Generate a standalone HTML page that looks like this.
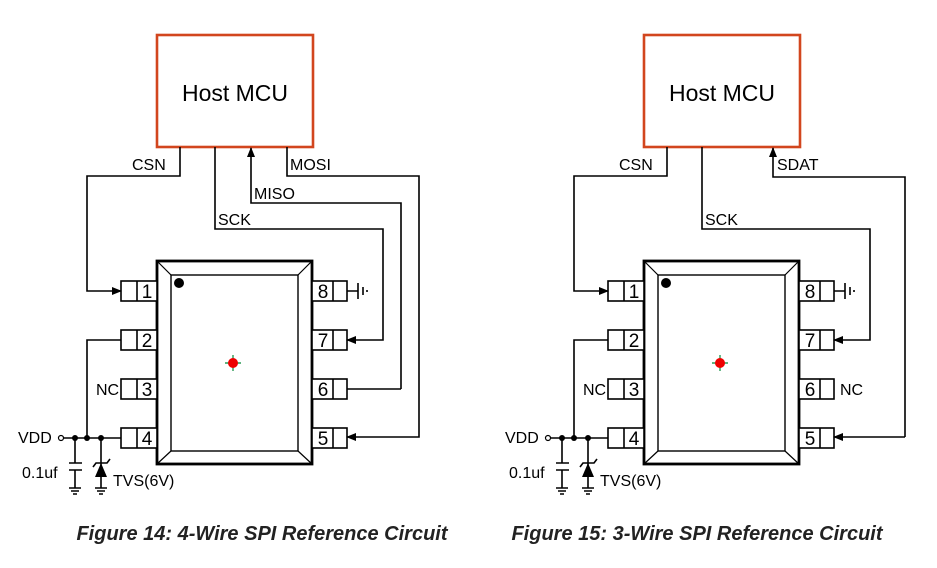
<!DOCTYPE html>
<html><head><style>
html,body{margin:0;padding:0;background:#fff;}
svg{display:block;}
text{font-family:"Liberation Sans",sans-serif;fill:#000;}
</style></head><body>
<svg width="937" height="568" viewBox="0 0 937 568" xmlns="http://www.w3.org/2000/svg">
<defs>
<marker id="ar" markerWidth="10" markerHeight="10" refX="9" refY="5" orient="auto" markerUnits="userSpaceOnUse">
<path d="M0,1 L10,5 L0,9 Z" fill="#000"/>
</marker>
</defs>

<g stroke="#000" fill="none" stroke-width="1.6">
  <rect x="157" y="35" width="156" height="112" stroke="#d2461e" stroke-width="2.6"/>
  <rect x="157" y="261" width="155" height="203" stroke-width="2.8" fill="#fff"/>
  <rect x="171" y="275" width="127" height="176" stroke-width="1.4"/>
  <path d="M157,261 L171,275 M312,261 L298,275 M157,464 L171,451 M312,464 L298,451" stroke-width="1.2"/>
  <circle cx="179" cy="283" r="5" fill="#000" stroke="none"/>
  <path d="M225,363 H241 M233,355 V371" stroke="#2a9a55" stroke-width="1.4"/>
  <circle cx="233" cy="363" r="5" fill="#e00" stroke="none"/>
  <rect x="121" y="281" width="36" height="20" fill="#fff"/><path d="M137,281 V301"/>
  <rect x="121" y="330" width="36" height="20" fill="#fff"/><path d="M137,330 V350"/>
  <rect x="121" y="379" width="36" height="20" fill="#fff"/><path d="M137,379 V399"/>
  <rect x="121" y="428" width="36" height="20" fill="#fff"/><path d="M137,428 V448"/>
  <rect x="312" y="281" width="35" height="20" fill="#fff"/><path d="M333,281 V301"/>
  <rect x="312" y="330" width="35" height="20" fill="#fff"/><path d="M333,330 V350"/>
  <rect x="312" y="379" width="35" height="20" fill="#fff"/><path d="M333,379 V399"/>
  <rect x="312" y="428" width="35" height="20" fill="#fff"/><path d="M333,428 V448"/>
  <path d="M347,291 H358 M358,283 V299 M363,287 V295 M367,290 V292"/>
  <circle cx="61" cy="438" r="2.5" fill="#fff" stroke-width="1.2"/>
  <path d="M64,438 H121"/>
  <path d="M87,438 V340 H121"/>
  <path d="M75,438 V463 M69,463 H82 M69,470 H82 M75,470 V488"/>
  <path d="M101,438 V488"/>
  <path d="M93,467 L96,463 H107 L110,459"/>
  <path d="M101,463 L95,477 H107 Z" fill="#000" stroke="none"/>
  <path d="M69,488 H81 M71,491 H79 M73,494 H77"/>
  <path d="M95,488 H107 M97,491 H105 M99,494 H103"/>
  <circle cx="75" cy="438" r="3" fill="#000" stroke="none"/>
  <circle cx="87" cy="438" r="3" fill="#000" stroke="none"/>
  <circle cx="101" cy="438" r="3" fill="#000" stroke="none"/>
  <path d="M180,147 V176 H87 V291 H121" marker-end="url(#ar)"/>
  <path d="M215,147 V229 H383 V340 H347" marker-end="url(#ar)"/>
  <path d="M401,389 V203 H251 V148" marker-end="url(#ar)"/>
  <path d="M347,389 H401"/>
  <path d="M287,147 V176 H419 V437 H347" marker-end="url(#ar)"/>
</g>
<g font-size="16">
  <text x="235" y="101" font-size="23" text-anchor="middle">Host MCU</text>
  <text x="132" y="170">CSN</text>
  <text x="290" y="170">MOSI</text>
  <text x="254" y="199">MISO</text>
  <text x="218" y="225">SCK</text>
  <text x="96" y="395">NC</text>
  <text x="18" y="443">VDD</text>
  <text x="22" y="478">0.1uf</text>
  <text x="113" y="486">TVS(6V)</text>
  <text x="147" y="298" font-size="19" text-anchor="middle">1</text>
  <text x="147" y="347" font-size="19" text-anchor="middle">2</text>
  <text x="147" y="396" font-size="19" text-anchor="middle">3</text>
  <text x="147" y="445" font-size="19" text-anchor="middle">4</text>
  <text x="323" y="298" font-size="19" text-anchor="middle">8</text>
  <text x="323" y="347" font-size="19" text-anchor="middle">7</text>
  <text x="323" y="396" font-size="19" text-anchor="middle">6</text>
  <text x="323" y="445" font-size="19" text-anchor="middle">5</text>
</g>

<g transform="translate(487,0)">
<g stroke="#000" fill="none" stroke-width="1.6">
  <rect x="157" y="35" width="156" height="112" stroke="#d2461e" stroke-width="2.6"/>
  <rect x="157" y="261" width="155" height="203" stroke-width="2.8" fill="#fff"/>
  <rect x="171" y="275" width="127" height="176" stroke-width="1.4"/>
  <path d="M157,261 L171,275 M312,261 L298,275 M157,464 L171,451 M312,464 L298,451" stroke-width="1.2"/>
  <circle cx="179" cy="283" r="5" fill="#000" stroke="none"/>
  <path d="M225,363 H241 M233,355 V371" stroke="#2a9a55" stroke-width="1.4"/>
  <circle cx="233" cy="363" r="5" fill="#e00" stroke="none"/>
  <rect x="121" y="281" width="36" height="20" fill="#fff"/><path d="M137,281 V301"/>
  <rect x="121" y="330" width="36" height="20" fill="#fff"/><path d="M137,330 V350"/>
  <rect x="121" y="379" width="36" height="20" fill="#fff"/><path d="M137,379 V399"/>
  <rect x="121" y="428" width="36" height="20" fill="#fff"/><path d="M137,428 V448"/>
  <rect x="312" y="281" width="35" height="20" fill="#fff"/><path d="M333,281 V301"/>
  <rect x="312" y="330" width="35" height="20" fill="#fff"/><path d="M333,330 V350"/>
  <rect x="312" y="379" width="35" height="20" fill="#fff"/><path d="M333,379 V399"/>
  <rect x="312" y="428" width="35" height="20" fill="#fff"/><path d="M333,428 V448"/>
  <path d="M347,291 H358 M358,283 V299 M363,287 V295 M367,290 V292"/>
  <circle cx="61" cy="438" r="2.5" fill="#fff" stroke-width="1.2"/>
  <path d="M64,438 H121"/>
  <path d="M87,438 V340 H121"/>
  <path d="M75,438 V463 M69,463 H82 M69,470 H82 M75,470 V488"/>
  <path d="M101,438 V488"/>
  <path d="M93,467 L96,463 H107 L110,459"/>
  <path d="M101,463 L95,477 H107 Z" fill="#000" stroke="none"/>
  <path d="M69,488 H81 M71,491 H79 M73,494 H77"/>
  <path d="M95,488 H107 M97,491 H105 M99,494 H103"/>
  <circle cx="75" cy="438" r="3" fill="#000" stroke="none"/>
  <circle cx="87" cy="438" r="3" fill="#000" stroke="none"/>
  <circle cx="101" cy="438" r="3" fill="#000" stroke="none"/>
  <path d="M180,147 V176 H87 V291 H121" marker-end="url(#ar)"/>
  <path d="M215,147 V229 H383 V340 H347" marker-end="url(#ar)"/>
  <path d="M418,437 V177 H286 V148" marker-end="url(#ar)"/>
  <path d="M418,437 H347" marker-end="url(#ar)"/>
</g>
<g font-size="16">
  <text x="235" y="101" font-size="23" text-anchor="middle">Host MCU</text>
  <text x="132" y="170">CSN</text>
  <text x="290" y="170">SDAT</text>
  <text x="218" y="225">SCK</text>
  <text x="96" y="395">NC</text>
  <text x="353" y="395">NC</text>
  <text x="18" y="443">VDD</text>
  <text x="22" y="478">0.1uf</text>
  <text x="113" y="486">TVS(6V)</text>
  <text x="147" y="298" font-size="19" text-anchor="middle">1</text>
  <text x="147" y="347" font-size="19" text-anchor="middle">2</text>
  <text x="147" y="396" font-size="19" text-anchor="middle">3</text>
  <text x="147" y="445" font-size="19" text-anchor="middle">4</text>
  <text x="323" y="298" font-size="19" text-anchor="middle">8</text>
  <text x="323" y="347" font-size="19" text-anchor="middle">7</text>
  <text x="323" y="396" font-size="19" text-anchor="middle">6</text>
  <text x="323" y="445" font-size="19" text-anchor="middle">5</text>
</g>
</g>

<text x="262" y="540" font-size="20" font-weight="bold" font-style="italic" text-anchor="middle" style="fill:#222">Figure 14: 4-Wire SPI Reference Circuit</text>
<text x="697" y="540" font-size="20" font-weight="bold" font-style="italic" text-anchor="middle" style="fill:#222">Figure 15: 3-Wire SPI Reference Circuit</text>
</svg>
</body></html>
